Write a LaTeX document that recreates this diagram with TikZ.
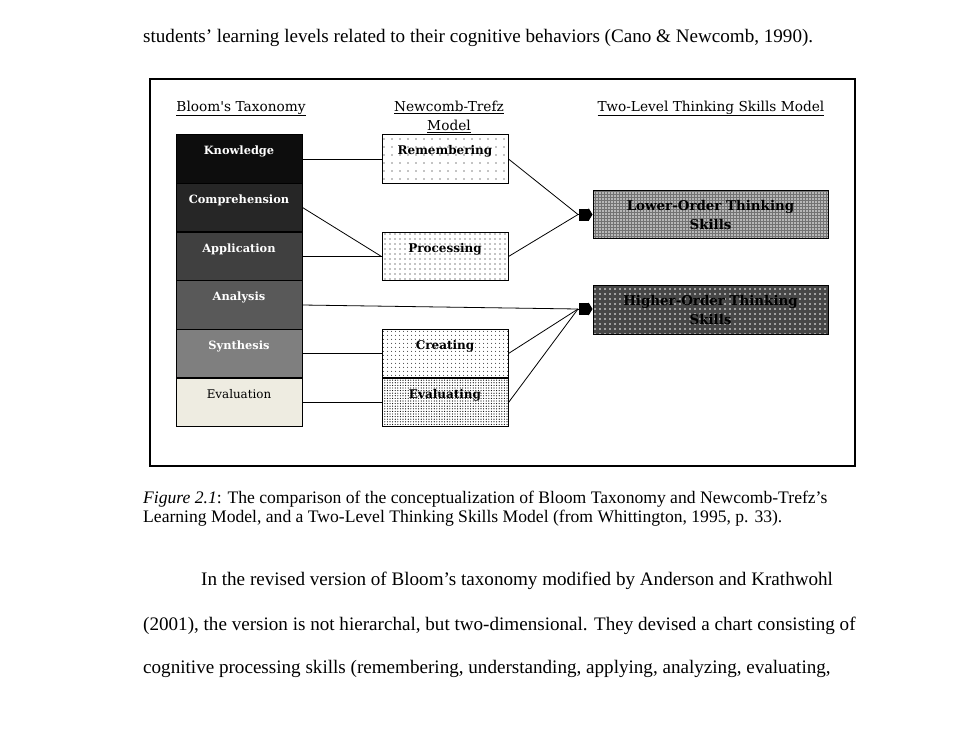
\documentclass[tikz,border=0pt]{standalone}
\usepackage{fontspec}
\setmainfont{Liberation Serif}
\newfontfamily\figfont{DejaVu Serif}
\usetikzlibrary{patterns.meta,arrows.meta}
\definecolor{bloomA}{HTML}{0D0D0D}
\definecolor{bloomB}{HTML}{262626}
\definecolor{bloomC}{HTML}{404040}
\definecolor{bloomD}{HTML}{595959}
\definecolor{bloomE}{HTML}{7F7F7F}
\definecolor{bloomF}{HTML}{EEECE1}
\tikzset{
  bloom/.style={draw,line width=1pt,fill=#1,minimum width=126pt,inner xsep=0pt,inner ysep=0pt,
    text height=20pt,text depth=28.5pt,text=white,font=\figfont\bfseries\fontsize{11.4}{13}\selectfont},
  newcomb/.style={draw,line width=1pt,pattern={Dots[distance=#1,radius=0.6pt]},minimum width=126pt,
    inner xsep=0pt,inner ysep=0pt,text height=20pt,text depth=28.5pt,font=\figfont\bfseries\fontsize{12}{13}\selectfont},
  level/.style={draw,line width=1pt,minimum width=235pt,minimum height=48.5pt,align=center,
    font=\figfont\bfseries\fontsize{13.4}{19}\selectfont},
  link/.style={line width=0.8pt},
  bigtip/.style={line width=0.8pt,-{Square[length=10pt,width=12pt]Triangle[length=4pt,width=13pt]}}
}
\begin{document}
\begin{tikzpicture}[x=1pt,y=-1pt]
  \useasboundingbox (0,0) rectangle (965,739);
  \begin{scope}[every node/.style={anchor=base west,inner sep=0pt,font=\fontsize{19.1}{22}\selectfont}]
    \node (intro) at (143,42) {students’ learning levels related to their cognitive behaviors (Cano \& Newcomb, 1990).};
    \node (par1) at (201,585) {In the revised version of Bloom’s taxonomy modified by Anderson and Krathwohl};
    \node (par2) at (143,630) {(2001), the version is not hierarchal, but two-dimensional. They devised a chart consisting of};
    \node (par3) at (143,673) {cognitive processing skills (remembering, understanding, applying, analyzing, evaluating,};
  \end{scope}
  \begin{scope}[every node/.style={anchor=base west,inner sep=0pt,font=\fontsize{17.6}{20}\selectfont}]
    \node (cap1) at (143,503) {\textit{Figure 2.1}: The comparison of the conceptualization of Bloom Taxonomy and Newcomb-Trefz’s};
    \node (cap2) at (143,522) {Learning Model, and a Two-Level Thinking Skills Model (from Whittington, 1995, p. 33).};
  \end{scope}
  \draw[line width=1.2pt] (150,79) rectangle (855,466);
  \begin{scope}[every node/.style={align=center,inner sep=0pt,font=\figfont\fontsize{13.7}{19}\selectfont}]
    \node (hbloom) at (241,108.5) {\underline{Bloom's Taxonomy}};
    \node (hnew) at (449,117) {\underline{Newcomb-Trefz}\\\underline{Model}};
    \node (htwo) at (711,108.5) {\underline{Two-Level Thinking Skills Model}};
  \end{scope}
  \node[bloom=bloomA] (know) at (239,159) {Knowledge};
  \node[bloom=bloomB] (comp) at (239,207.5) {Comprehension};
  \node[bloom=bloomC] (app) at (239,256.5) {Application};
  \node[bloom=bloomD] (ana) at (239,305) {Analysis};
  \node[bloom=bloomE] (syn) at (239,353.5) {Synthesis};
  \node[bloom=bloomF,text=black,font=\figfont\fontsize{11.9}{13}\selectfont] (eva) at (239,402.5) {Evaluation};
  \node[newcomb=8pt] (rem) at (445,159) {Remembering};
  \node[newcomb=5pt] (proc) at (445,256.5) {Processing};
  \node[newcomb=4pt] (cre) at (445,353.5) {Creating};
  \node[newcomb=2.6pt] (evl) at (445,402.5) {Evaluating};
  \node[level,preaction={fill=black!55},pattern={Dots[distance=3pt,radius=0.9pt]},pattern color=white] (lots) at (710.5,214.5) {Lower-Order Thinking\\Skills};
  \node[level,preaction={fill=black!72},pattern={Dots[distance=5pt,radius=0.9pt]},pattern color=white] (hots) at (710.5,310) {Higher-Order Thinking\\Skills};
  \coordinate (lin) at (578,214.5);
  \coordinate (hin) at (578,309);
  \begin{scope}[every edge/.style={draw,link}]
    \path (know) edge (rem);
    \path (comp.east) edge (proc.west);
    \path (app) edge (proc);
    \path (ana.east) edge (hin);
    \path (syn) edge (cre);
    \path (eva) edge (evl);
    \path (rem.east) edge (lin);
    \path (proc.east) edge (lin);
    \path (cre.east) edge (hin);
    \path (evl.east) edge (hin);
  \end{scope}
  \draw[bigtip] (lin) -- (lin -| lots.west);
  \draw[bigtip] (hin) -- (hin -| hots.west);
\end{tikzpicture}
\end{document}
